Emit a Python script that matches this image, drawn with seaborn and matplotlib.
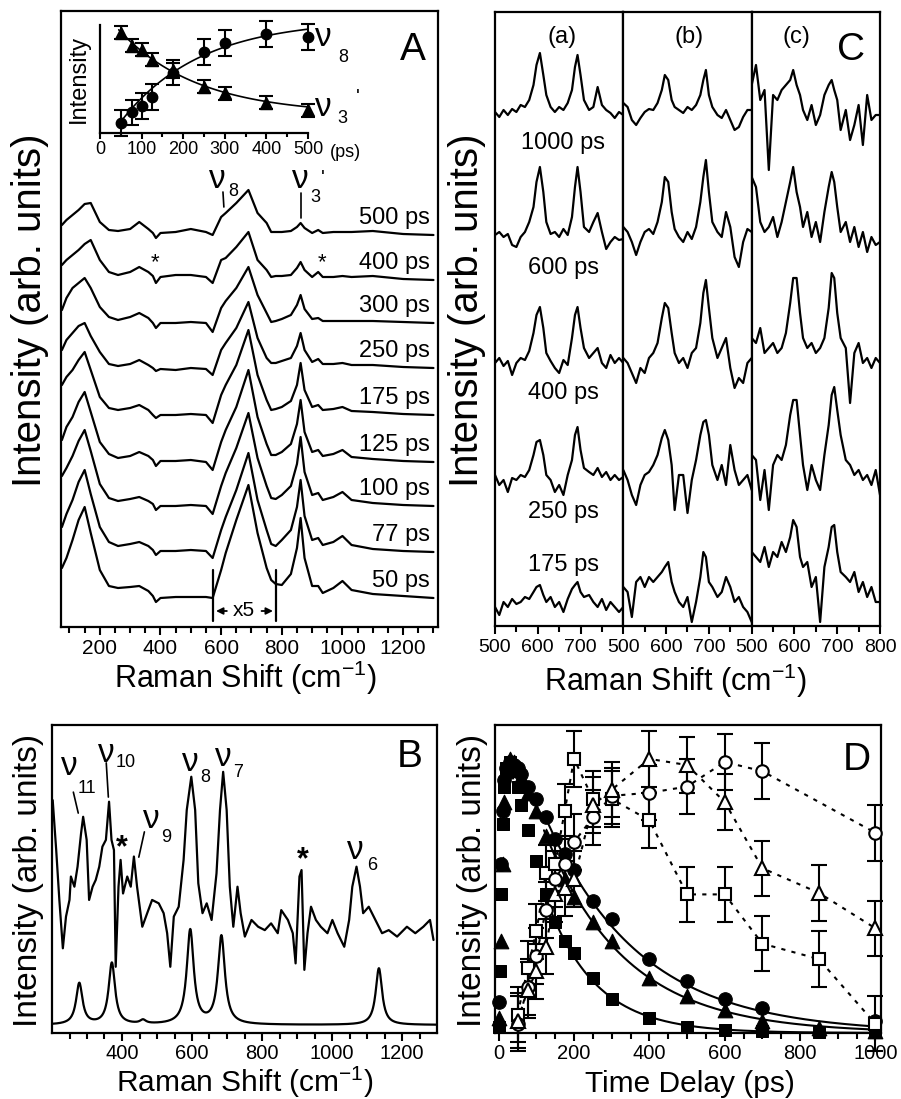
import numpy as np
import matplotlib
matplotlib.use("Agg")
import matplotlib.pyplot as plt
import seaborn as sns

sns.set_style("ticks")
plt.rcParams['font.family'] = ['Liberation Sans', 'DejaVu Sans']
plt.rcParams['mathtext.fontset'] = 'custom'
plt.rcParams['mathtext.rm'] = 'Liberation Sans'
plt.rcParams['mathtext.default'] = 'regular'
plt.rcParams['axes.linewidth'] = 1.6
plt.rcParams['axes.edgecolor'] = 'black'
for key in ['text.color', 'axes.labelcolor', 'xtick.color', 'ytick.color']:
    plt.rcParams[key] = 'black'

# ---------------- panel A : time resolved spectra (heights above each trace's baseline)
A_x = [75, 90, 110, 130, 150, 170, 200, 230, 260, 300, 330, 360, 375, 385, 400, 450, 500, 550, 572,
       600, 615, 650, 690, 720, 750, 765, 780, 800, 830, 850, 862, 875, 900, 920, 935, 970, 1000,
       1030, 1100, 1200, 1300]
A_delays = ['500 ps', '400 ps', '300 ps', '250 ps', '175 ps', '125 ps', '100 ps', '77 ps', '50 ps']
A_500 = [10, 15, 20, 25, 31, 32, 13, 5, 4, 6, 13, 6, 2, -3, 2, 3, 6, 3, 0, 18, 22, 32, 45, 22, 12,
         3, 3, 3, 4, 8, 12, 7, 2, 5, 2, 3, 3, 3, 4, 1, 0]
A_400 = [15, 20, 25, 30, 36, 40, 20, 8, 5, 8, 13, 8, 4, -3, 3, 5, 5, 3, -3, 20, 22, 33, 48, 20, 10,
         3, 4, 4, 5, 12, 18, 10, 3, 8, 3, 3, 4, 3, 4, 1, 0]
A_300 = [13, 25, 35, 40, 45, 35, 16, 6, 3, 6, 10, 5, 0, -5, 0, 0, 1, 0, -9, 15, 22, 35, 56, 28, 10,
         1, 2, 4, 8, 18, 28, 14, 4, 5, 2, 2, 2, 2, 2, 1, 0]
A_250 = [18, 28, 35, 42, 45, 32, 16, 4, 2, 4, 8, 3, 0, -3, -1, -2, 0, -1, -7, 18, 25, 40, 66, 30, 10,
         5, 5, 7, 10, 22, 35, 18, 6, 9, 4, 4, 5, 3, 3, 1, 0]
A_175 = [30, 38, 45, 55, 63, 45, 18, 7, 5, 7, 10, 5, 0, -3, 0, 0, 1, 0, -8, 20, 30, 50, 85, 40, 15,
         5, 6, 8, 14, 30, 52, 25, 8, 10, 5, 6, 8, 4, 3, 1, 0]
A_125 = [22, 35, 45, 60, 70, 50, 20, 8, 4, 6, 10, 6, 2, -4, 1, 1, 2, 0, -8, 20, 32, 55, 92, 45, 18,
         7, 7, 10, 18, 38, 62, 30, 10, 12, 6, 8, 12, 5, 3, 1, 0]
A_100 = [30, 38, 50, 65, 76, 55, 22, 8, 5, 7, 9, 5, 2, -4, 0, 0, 1, 0, -8, 20, 33, 58, 93, 48, 20,
         8, 7, 11, 20, 42, 69, 34, 11, 13, 6, 9, 14, 6, 3, 1, 0]
A_77 = [25, 38, 52, 70, 82, 58, 25, 10, 6, 8, 10, 6, 2, -3, 1, 1, 2, 1, -6, 22, 35, 62, 99, 52, 22,
        8, 6, 12, 22, 45, 72, 36, 12, 14, 7, 10, 16, 7, 3, 1, 0]
A_50 = [30, 40, 58, 78, 91, 65, 28, 12, 10, 11, 12, 7, 2, -4, 0, 1, 1, 1, 0, 28, 45, 78, 113, 65, 30,
        18, 14, 13, 24, 50, 80, 40, 12, 12, 5, 10, 17, 8, 4, 2, 0]
A_traces = [A_500, A_400, A_300, A_250, A_175, A_125, A_100, A_77, A_50]
A_offset = [392, 347, 304, 259, 212, 165, 121, 75, 29]

# inset of A
inset_t = [50, 77, 100, 125, 175, 250, 300, 400, 500]
inset_nu8 = [0.09, 0.19, 0.25, 0.33, 0.56, 0.75, 0.83, 0.92, 0.89]
inset_nu3 = [0.93, 0.81, 0.77, 0.68, 0.58, 0.43, 0.37, 0.28, 0.21]
inset_err8 = [0.12] * 9
inset_err3 = [0.06, 0.06, 0.06, 0.06, 0.07, 0.06, 0.06, 0.06, 0.06]

# ---------------- panel C
C_x = [500, 510, 520, 530, 540, 550, 560, 570, 580, 590, 597, 605, 613, 620, 630, 640, 650, 660,
       670, 680, 687, 693, 700, 708, 720, 730, 740, 750, 760, 770, 780, 790, 800]
C_delays = ['1000 ps', '600 ps', '400 ps', '250 ps', '175 ps']
C_1000 = [[3, -2, 5, 0, 6, 3, 10, 8, 15, 30, 50, 62, 40, 20, 8, 3, 8, 5, 12, 25, 48, 60, 40, 15, 5, 8, 28, 10, 5, 2, -3, 3, 0],
          [12, 8, -5, -10, -3, 3, 6, 5, 12, 25, 40, 35, 15, 8, 5, 2, 8, 5, 10, 20, 35, 45, 20, 8, 0, -3, 5, -5, -15, -12, -2, 5, 5],
          [30, 50, 15, 25, -55, 20, 15, 25, 30, 35, 45, 30, 20, 5, -5, 10, -10, 0, 20, 30, 35, 25, 15, -15, 5, -25, -10, 10, -30, 20, -5, 0, 0]]
C_600 = [[2, 5, 0, 3, -8, -10, 0, 5, 15, 30, 55, 70, 45, 15, 3, 5, 0, 8, 2, 20, 50, 70, 45, 10, 5, 15, 24, 5, -12, -5, 0, -3, -2],
         [10, 5, -5, -18, -5, 5, 8, 3, 15, 35, 60, 55, 25, 8, 0, -5, 5, -2, 10, 35, 60, 77, 45, 15, 5, 0, 25, 10, -20, -30, -5, 8, 5],
         [60, 50, 15, 5, 10, 20, 0, 15, 35, 55, 70, 45, 30, 10, 25, 0, 15, -5, 25, 50, 65, 55, 30, 5, 15, -5, 10, -10, 5, -15, 0, -8, -5]]
C_400 = [[0, 5, -3, 2, -12, 0, 5, 3, 12, 30, 48, 56, 35, 10, 2, -5, -10, 3, -2, 25, 48, 56, 35, 15, 5, 10, 15, 0, -5, 8, 0, 5, 0],
         [5, 0, -10, -20, -5, -10, 5, 10, 20, 45, 60, 55, 30, 10, 0, 5, -5, 10, 15, 40, 70, 83, 55, 25, 5, 15, 25, -5, -25, -15, -20, 0, 5],
         [25, 20, 35, 10, 15, 20, 10, 15, 30, 60, 85, 85, 50, 25, 15, 20, 10, 15, 25, 55, 90, 85, 50, 25, 15, -40, 10, 20, 0, 5, -5, 5, 0]]
C_250 = [[5, -5, 0, -12, 2, 0, 5, 3, 10, 25, 38, 40, 25, 5, 0, -12, -5, -15, 5, 20, 45, 53, 30, 12, 8, 5, 12, 3, 8, 0, 5, 0, 3],
         [10, 0, -15, -25, -5, 5, 8, 15, 25, 42, 50, 40, 15, -30, 5, 5, -33, 0, 20, 45, 58, 60, 45, 15, 0, 15, -5, 35, 10, -5, 0, 5, -10],
         [25, 20, -20, 10, -30, 15, 25, 20, 35, 65, 80, 80, 45, 15, -10, 15, 0, -10, 25, 55, 85, 93, 70, 45, 20, 15, 5, 10, 0, 5, -5, 10, -15]]
C_175 = [[0, -8, 5, 0, 8, 3, 5, 10, 8, 15, 20, 22, 12, 5, 10, 0, 5, -5, 8, 18, 22, 25, 15, 10, 12, 5, 0, 8, -3, 5, 0, -5, 0],
         [20, 15, -10, 25, 30, 20, 30, 25, 30, 35, 40, 45, 25, 15, 5, 0, 10, -15, 5, 30, 55, 50, 25, 20, 10, 15, 30, 20, 5, 10, 0, -5, -15],
         [55, 50, 45, 60, 40, 55, 50, 65, 55, 70, 87, 80, 50, 40, 45, 20, 30, -15, 40, 60, 80, 82, 55, 35, 30, 25, 35, 15, 25, 10, 20, 5, 5]]
C_traces = [C_1000, C_600, C_400, C_250, C_175]
C_offset = [511, 389, 263, 146, 19]
C_label_y = [483, 358, 233, 114, 61]

# ---------------- panel B : experimental spectrum and calculated peak table
B_x = [202, 212, 221, 231, 240, 250, 254, 264, 273, 283, 289, 299, 306, 316, 325, 335, 344, 354, 363,
       370, 377, 382, 390, 396, 403, 415, 425, 434, 443, 458, 472, 486, 505, 519, 529, 538, 548, 562,
       576, 585, 598, 609, 618, 630, 642, 656, 670, 680, 689, 699, 708, 718, 730, 739, 751, 770, 789,
       808, 826, 845, 855, 874, 888, 896, 907, 913, 921, 930, 940, 954, 968, 987, 1001, 1016, 1035,
       1049, 1058, 1070, 1080, 1089, 1105, 1124, 1143, 1162, 1186, 1214, 1238, 1261, 1280, 1290]
B_y = [0.756, 0.594, 0.432, 0.275, 0.378, 0.432, 0.508, 0.475, 0.540, 0.648, 0.702, 0.627, 0.432,
       0.475, 0.497, 0.540, 0.605, 0.627, 0.751, 0.627, 0.594, 0.215, 0.475, 0.562, 0.453, 0.508,
       0.475, 0.573, 0.475, 0.345, 0.389, 0.432, 0.421, 0.389, 0.324, 0.215, 0.378, 0.410, 0.562,
       0.724, 0.832, 0.724, 0.486, 0.389, 0.421, 0.367, 0.518, 0.724, 0.848, 0.724, 0.475, 0.345,
       0.475, 0.389, 0.313, 0.367, 0.345, 0.334, 0.356, 0.324, 0.399, 0.367, 0.324, 0.226, 0.508,
       0.529, 0.205, 0.324, 0.410, 0.367, 0.345, 0.324, 0.367, 0.324, 0.280, 0.367, 0.475, 0.540,
       0.475, 0.389, 0.410, 0.367, 0.324, 0.334, 0.313, 0.345, 0.324, 0.345, 0.367, 0.302]
calc_pos = [278, 371, 460, 595, 684, 1134]
calc_amp = [0.134, 0.200, 0.012, 0.306, 0.286, 0.184]
calc_hwhm = [11, 11, 10, 12, 12, 11]
calc_base = 0.026

# ---------------- panel D : kinetics
fc_t = [0, 5, 10, 15, 20, 30, 40, 50, 60, 77, 100, 125, 150, 175, 200, 250, 300, 400, 500, 600, 700, 1000]
fc_y = [0.10, 0.55, 0.72, 0.82, 0.86, 0.88, 0.87, 0.86, 0.84, 0.80, 0.76, 0.70, 0.63, 0.58, 0.53,
        0.43, 0.37, 0.24, 0.17, 0.11, 0.08, 0.04]
ft_t = [0, 5, 10, 15, 20, 30, 40, 50, 60, 77, 100, 125, 150, 175, 200, 250, 300, 400, 500, 600, 700, 850, 1000]
ft_y = [0.05, 0.30, 0.55, 0.75, 0.85, 0.89, 0.88, 0.86, 0.83, 0.78, 0.72, 0.64, 0.56, 0.50, 0.44,
        0.36, 0.30, 0.18, 0.12, 0.075, 0.04, 0.015, 0.005]
fs_t = [0, 3, 6, 10, 15, 20, 30, 40, 50, 60, 77, 100, 125, 150, 175, 200, 250, 300, 400, 500, 600, 700, 850, 1000]
fs_y = [0.02, 0.20, 0.45, 0.68, 0.80, 0.86, 0.88, 0.85, 0.80, 0.74, 0.66, 0.56, 0.45, 0.36, 0.30,
        0.26, 0.18, 0.11, 0.05, 0.02, 0.01, 0.005, 0.003, 0.002]
fit_amp = 1.15
fit_tau = [250, 215, 130]

os_t = [50, 77, 100, 125, 150, 175, 200, 250, 300, 400, 500, 600, 700, 850, 1000]
os_y = [0.06, 0.21, 0.33, 0.52, 0.55, 0.72, 0.89, 0.76, 0.76, 0.69, 0.45, 0.45, 0.29, 0.24, 0.03]
oc_t = [50, 77, 100, 125, 150, 175, 200, 250, 300, 400, 500, 600, 700, 1000]
oc_y = [0.03, 0.15, 0.25, 0.40, 0.50, 0.55, 0.62, 0.70, 0.77, 0.78, 0.80, 0.88, 0.85, 0.65]
ot_t = [50, 77, 100, 125, 150, 175, 200, 250, 300, 400, 500, 600, 700, 850, 1000]
ot_y = [0.04, 0.14, 0.20, 0.28, 0.45, 0.47, 0.50, 0.74, 0.79, 0.89, 0.87, 0.75, 0.535, 0.455, 0.34]
open_err = 0.09

W, H = 901, 1099
fig = plt.figure(figsize=(W / 100, H / 100), dpi=100)


def box(l, t, r, b):
    return [l / W, 1 - b / H, (r - l) / W, (b - t) / H]


def ftext(x, y, s, **kw):
    fig.text(x / W, 1 - y / H, s, **kw)


def style(ax, major, minor, size=15, pad=3):
    ax.set_xticks(major)
    ax.set_xticks(minor, minor=True)
    ax.set_yticks([])
    ax.tick_params(axis='x', which='major', direction='out', length=6, width=1.5, labelsize=size, pad=pad)
    ax.tick_params(axis='x', which='minor', direction='out', length=4, width=1.5)
    ax.set_xlabel('')
    ax.set_ylabel('')


LW = 1.6
xlab = r'Raman Shift (cm$^{-1}$)'
ylab = 'Intensity (arb. units)'

# ================= A
axA = fig.add_axes(box(61, 11, 438, 627))
for h, off, lab in zip(A_traces, A_offset, A_delays):
    sns.lineplot(x=A_x, y=np.array(h) + off, ax=axA, color='k', linewidth=LW,
                 estimator=None, sort=False, legend=False)
    axA.text(1289, off + 17, lab, ha='right', va='center', fontsize=17)
axA.set_xlim(72, 1315)
axA.set_ylim(0, 616)
style(axA, [200, 400, 600, 800, 1000, 1200], list(range(100, 1301, 50)))
# x5 bracket
for xb in (572, 782):
    axA.plot([xb, xb], [6, 57], color='k', lw=1.6)
axA.text(676, 16, 'x5', ha='center', va='center', fontsize=15)
axA.annotate('', xy=(574, 16), xytext=(628, 16), arrowprops=dict(arrowstyle='-|>', lw=1.3, color='k', mutation_scale=10))
axA.annotate('', xy=(780, 16), xytext=(724, 16), arrowprops=dict(arrowstyle='-|>', lw=1.3, color='k', mutation_scale=10))
# mode labels
axA.text(586, 447, 'ν', ha='center', va='center', fontsize=24)
axA.text(639, 435, '8', ha='center', va='center', fontsize=13)
axA.plot([606, 609], [435, 420], color='k', lw=1.2)
axA.text(860, 447, 'ν', ha='center', va='center', fontsize=24)
axA.text(910, 429, '3', ha='center', va='center', fontsize=13)
axA.text(936, 449, "'", ha='center', va='center', fontsize=15)
axA.plot([863, 863], [434, 409], color='k', lw=1.2)
axA.text(381, 364, '*', ha='center', va='center', fontsize=16)
axA.text(933, 364, '*', ha='center', va='center', fontsize=16)
axA.text(1233, 577, 'A', ha='center', va='center', fontsize=28)

# inset
axI = fig.add_axes(box(100, 25, 308, 133))
axI.errorbar(inset_t, inset_nu8, yerr=inset_err8, fmt='o', color='k', ms=7.5, capsize=5,
             elinewidth=1.5, capthick=1.5, clip_on=False, zorder=4)
axI.errorbar(inset_t, inset_nu3, yerr=inset_err3, fmt='^', color='k', ms=8, capsize=5,
             elinewidth=1.5, capthick=1.5, clip_on=False, zorder=4)
tt = np.linspace(45, 500, 120)
sns.lineplot(x=tt, y=1.05 * (1 - np.exp(-(tt - 30) / 190)), ax=axI, color='k', linewidth=1.2, legend=False)
sns.lineplot(x=tt, y=0.17 + 0.85 * np.exp(-(tt - 30) / 190), ax=axI, color='k', linewidth=1.2, legend=False)
axI.set_xlim(0, 500)
axI.set_ylim(0, 1)
axI.spines['top'].set_visible(False)
axI.spines['right'].set_visible(False)
axI.patch.set_alpha(0)
style(axI, [0, 100, 200, 300, 400, 500], list(range(0, 501, 50)), size=13)
axI.tick_params(axis='x', which='major', length=4, pad=2)
axI.tick_params(axis='x', which='minor', length=3)
axI.text(536, 0.88, 'ν', ha='center', va='center', fontsize=24, clip_on=False)
axI.text(584, 0.70, '8', ha='center', va='center', fontsize=13, clip_on=False)
axI.text(536, 0.24, 'ν', ha='center', va='center', fontsize=24, clip_on=False)
axI.text(582, 0.13, '3', ha='center', va='center', fontsize=13, clip_on=False)
axI.text(620, 0.33, "'", ha='center', va='center', fontsize=15, clip_on=False)
ftext(345, 152, '(ps)', ha='center', va='center', fontsize=13)
ftext(79, 79, 'Intensity', ha='center', va='center', rotation=90, fontsize=17)

ftext(245, 678, xlab, ha='center', va='center', fontsize=22)
ftext(30, 310, ylab, ha='center', va='center', rotation=90, fontsize=29)

# ================= C
edges = [495, 623.3, 751.7, 880]
C_axes = []
for j in range(3):
    ax = fig.add_axes(box(edges[j], 12, edges[j + 1], 626))
    for tr, off in zip(C_traces, C_offset):
        sns.lineplot(x=C_x, y=np.array(tr[j]) + off, ax=ax, color='k', linewidth=LW,
                     estimator=None, sort=False, legend=False)
    ax.set_xlim(500, 800)
    ax.set_ylim(0, 614)
    major = [500, 600, 700] if j < 2 else [500, 600, 700, 800]
    style(ax, major, [550, 650, 750], size=14)
    C_axes.append(ax)
for lab, ly in zip(C_delays, C_label_y):
    C_axes[0].text(660, ly, lab, ha='center', va='center', fontsize=17)
for ax, lab, xp in zip(C_axes, ['(a)', '(b)', '(c)'], [656, 653, 605]):
    ax.text(xp, 589, lab, ha='center', va='center', fontsize=17)
C_axes[2].text(733, 576, 'C', ha='center', va='center', fontsize=28)
ftext(675, 681, xlab, ha='center', va='center', fontsize=22)
ftext(467, 310, ylab, ha='center', va='center', rotation=90, fontsize=29)

# ================= B
axB = fig.add_axes(box(52, 725, 437, 1033))
sns.lineplot(x=B_x, y=B_y, ax=axB, color='k', linewidth=LW, estimator=None, sort=False, legend=False)
xc = np.linspace(200, 1300, 1101)
yc = np.full_like(xc, calc_base)
for p, a, g in zip(calc_pos, calc_amp, calc_hwhm):
    yc = yc + a / (1 + ((xc - p) / g) ** 2)
sns.lineplot(x=xc, y=yc, ax=axB, color='k', linewidth=LW, legend=False)
axB.set_xlim(200, 1300)
axB.set_ylim(0, 1)
style(axB, [400, 600, 800, 1000, 1200], list(range(250, 1300, 50)), size=14.5, pad=2)
for xs, ys, s, fs in [(250, 0.864, 'ν', 24), (301, 0.795, '11', 13), (355, 0.909, 'ν', 24), (411, 0.877, '10', 13),
                      (485, 0.692, 'ν', 24), (525, 0.636, '9', 13), (596, 0.877, 'ν', 24), (638, 0.828, '8', 13),
                      (689, 0.893, 'ν', 24), (732, 0.847, '7', 13), (1067, 0.594, 'ν', 24), (1115, 0.545, '6', 13)]:
    axB.text(xs, ys, s, ha='center', va='center', fontsize=fs)
axB.plot([261, 275], [0.782, 0.714], color='k', lw=1.2)
axB.plot([355, 361], [0.877, 0.766], color='k', lw=1.2)
axB.plot([464, 448], [0.653, 0.571], color='k', lw=1.2)
axB.text(400, 0.600, '*', ha='center', va='center', fontsize=22, fontweight='bold')
axB.text(916, 0.560, '*', ha='center', va='center', fontsize=22, fontweight='bold')
axB.text(1223, 0.896, 'B', ha='center', va='center', fontsize=28)
ftext(245, 1082, xlab, ha='center', va='center', fontsize=21.5)
ftext(29, 880, ylab, ha='center', va='center', rotation=90, fontsize=24)

# ================= D
axD = fig.add_axes(box(495, 725, 881, 1033))
for t, y, tau, m, s in [(fc_t, fc_y, fit_tau[0], 'o', 95), (ft_t, ft_y, fit_tau[1], '^', 110),
                        (fs_t, fs_y, fit_tau[2], 's', 80)]:
    tf = np.linspace(120, 1000, 200)
    sns.lineplot(x=tf, y=fit_amp * np.exp(-tf / tau), ax=axD, color='k', linewidth=1.5, legend=False, zorder=2)
    sns.scatterplot(x=t, y=y, ax=axD, marker=m, s=s, color='k', edgecolor='k', legend=False,
                    zorder=3, clip_on=False)
for t, y, m, ms in [(os_t, os_y, 's', 8.5), (oc_t, oc_y, 'o', 9), (ot_t, ot_y, '^', 10)]:
    sns.lineplot(x=t, y=y, ax=axD, color='k', linewidth=1.5, linestyle=(0, (2, 3)), legend=False,
                 estimator=None, sort=False, zorder=3)
    axD.errorbar(t, y, yerr=open_err, fmt=m, mfc='white', mec='k', mew=1.5, color='k', ms=ms,
                 capsize=6, elinewidth=1.5, capthick=1.5, zorder=4, clip_on=False)
axD.set_xlim(-10, 1015)
axD.set_ylim(0, 1)
style(axD, [0, 200, 400, 600, 800, 1000], list(range(0, 1001, 50)), size=14.5, pad=2)
axD.text(952, 0.886, 'D', ha='center', va='center', fontsize=28)
ftext(690, 1084, 'Time Delay (ps)', ha='center', va='center', fontsize=21.5)
ftext(472, 880, ylab, ha='center', va='center', rotation=90, fontsize=24)

fig.savefig('out.png', dpi=100)
